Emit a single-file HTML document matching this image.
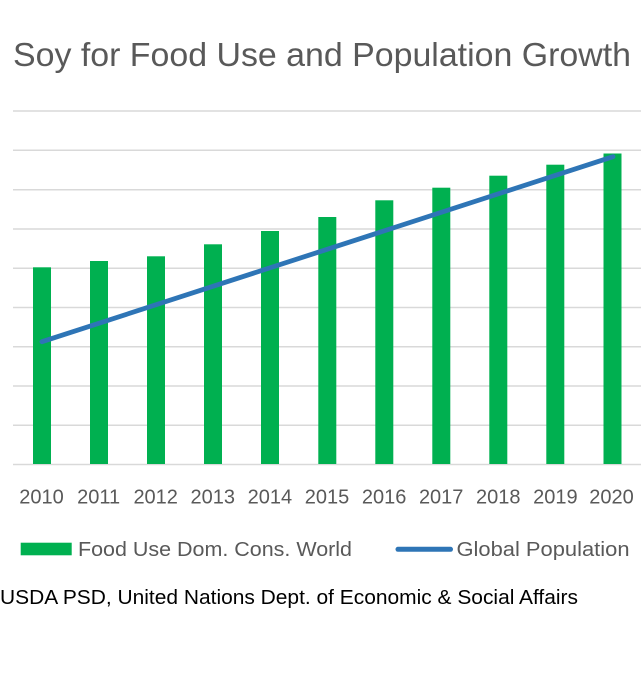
<!DOCTYPE html>
<html>
<head>
<meta charset="utf-8">
<style>
html,body{margin:0;padding:0;background:#ffffff;}
svg{display:block;}
text{font-family:"Liberation Sans",sans-serif;}
</style>
</head>
<body>
<svg width="644" height="696" viewBox="0 0 644 696" xmlns="http://www.w3.org/2000/svg">
<rect x="0" y="0" width="644" height="696" fill="#ffffff"/>
<text x="13" y="66" font-size="33" fill="#595959" textLength="618" lengthAdjust="spacingAndGlyphs">Soy for Food Use and Population Growth</text>
<g stroke="#d9d9d9" stroke-width="1.5">
<line x1="13" y1="111" x2="641" y2="111"/>
<line x1="13" y1="150.3" x2="641" y2="150.3"/>
<line x1="13" y1="189.7" x2="641" y2="189.7"/>
<line x1="13" y1="229" x2="641" y2="229"/>
<line x1="13" y1="268.3" x2="641" y2="268.3"/>
<line x1="13" y1="307.5" x2="641" y2="307.5"/>
<line x1="13" y1="346.7" x2="641" y2="346.7"/>
<line x1="13" y1="386" x2="641" y2="386"/>
<line x1="13" y1="425.3" x2="641" y2="425.3"/>
<line x1="13" y1="464.5" x2="641" y2="464.5"/>
</g>
<g fill="#00b050">
<rect x="33" y="267.3" width="18" height="196.7"/>
<rect x="90" y="261" width="18" height="203"/>
<rect x="147" y="256.3" width="18" height="207.7"/>
<rect x="204" y="244.3" width="18" height="219.7"/>
<rect x="261" y="231" width="18" height="233"/>
<rect x="318.3" y="217" width="18" height="247"/>
<rect x="375.3" y="200.3" width="18" height="263.7"/>
<rect x="432.3" y="187.7" width="18" height="276.3"/>
<rect x="489.3" y="175.7" width="18" height="288.3"/>
<rect x="546.3" y="164.7" width="18" height="299.3"/>
<rect x="603.5" y="153.5" width="18" height="310.5"/>
</g>
<line x1="42" y1="341.7" x2="613" y2="156.7" stroke="#2e75b6" stroke-width="4.8" stroke-linecap="round"/>
<g font-size="20" fill="#595959" text-anchor="middle">
<text x="41.5" y="503.5">2010</text>
<text x="98.6" y="503.5">2011</text>
<text x="155.7" y="503.5">2012</text>
<text x="212.8" y="503.5">2013</text>
<text x="269.9" y="503.5">2014</text>
<text x="327" y="503.5">2015</text>
<text x="384.1" y="503.5">2016</text>
<text x="441.2" y="503.5">2017</text>
<text x="498.3" y="503.5">2018</text>
<text x="555.4" y="503.5">2019</text>
<text x="611.5" y="503.5">2020</text>
</g>
<rect x="20.7" y="542.7" width="51" height="12.6" fill="#00b050"/>
<text x="78" y="556" font-size="20" fill="#595959" textLength="274" lengthAdjust="spacingAndGlyphs">Food Use Dom. Cons. World</text>
<line x1="398" y1="549.3" x2="450.5" y2="549.3" stroke="#2e75b6" stroke-width="5" stroke-linecap="round"/>
<text x="456.5" y="556" font-size="20" fill="#595959" textLength="173" lengthAdjust="spacingAndGlyphs">Global Population</text>
<text x="0" y="604" font-size="20" fill="#000000" textLength="578" lengthAdjust="spacingAndGlyphs">USDA PSD, United Nations Dept. of Economic &amp; Social Affairs</text>
</svg>
</body>
</html>
